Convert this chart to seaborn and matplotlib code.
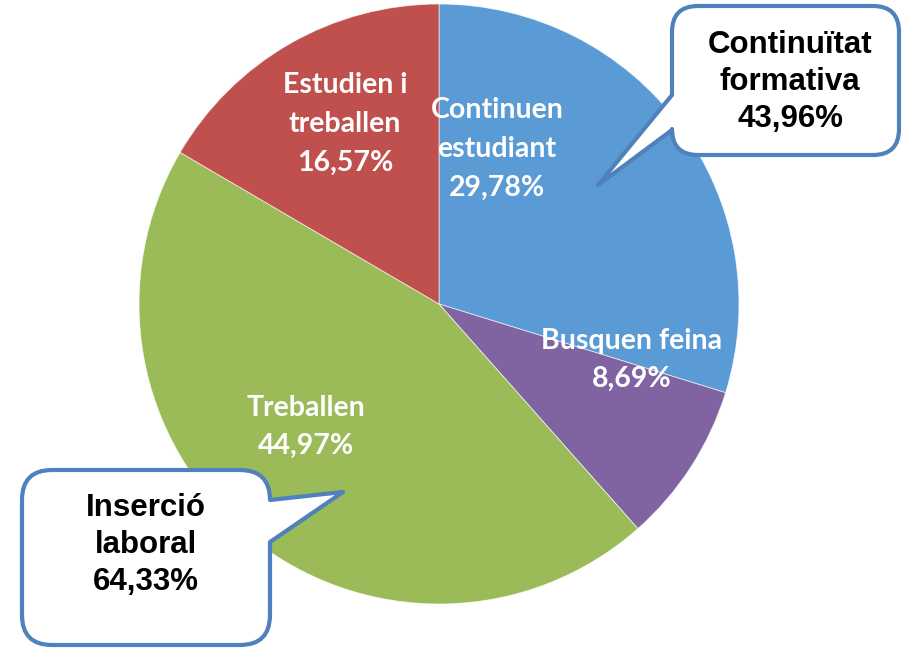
import matplotlib
matplotlib.use("Agg")
import matplotlib.pyplot as plt
from matplotlib.path import Path
from matplotlib.patches import PathPatch
import seaborn as sns

# dades del gràfic
categories = ["Continuen estudiant", "Busquen feina", "Treballen", "Estudien i treballen"]
label_lines = ["Continuen\nestudiant", "Busquen feina", "Treballen", "Estudien i\ntreballen"]
values = [29.78, 8.69, 44.97, 16.57]
colors = ["#5B9BD5", "#8064A2", "#9BBB59", "#C0504D"]

callout_titles = ["Continuïtat\nformativa", "Inserció\nlaboral"]
callout_values = [43.96, 64.33]

W, H = 902, 650

sns.set_style("white")

fig = plt.figure(figsize=(W / 100, H / 100), dpi=100)
ax = fig.add_axes([0, 0, 1, 1])


def py(y):
    # coordenada de píxel (des de dalt) a coordenada de l'eix
    return H - y


def fmt(v):
    return f"{v:.2f}".replace(".", ",") + "%"


ax.pie(values, colors=colors, startangle=90, counterclock=False,
       center=(439, py(304)), radius=300, frame=True,
       wedgeprops=dict(linewidth=0.6, edgecolor=(1, 1, 1, 0.7)))
ax.set_xlim(0, W)
ax.set_ylim(0, H)
ax.set_aspect("equal")
ax.axis("off")

# posicions de les etiquetes (píxels)
label_pos = [(497, 149), (632, 360), (306, 427), (345, 124)]
for txt, v, (x, y) in zip(label_lines, values, label_pos):
    ax.text(x, py(y), txt + "\n" + fmt(v), ha="center", va="center",
            color="white", fontsize=20.5, fontweight="bold",
            family=["Lato", "DejaVu Sans"], linespacing=1.6, zorder=5)


def callout(x0, y0, x1, y1, r, side, b0, b1, tip):
    # rectangle arrodonit amb cua, en píxels
    X0, X1 = x0, x1
    Yt, Yb = py(y0), py(y1)
    tx, ty = tip[0], py(tip[1])
    v, c = [], []

    def add(pt, code):
        v.append(pt)
        c.append(code)

    add((X0 + r, Yt), Path.MOVETO)
    add((X1 - r, Yt), Path.LINETO)
    add((X1, Yt), Path.CURVE3)
    add((X1, Yt - r), Path.CURVE3)
    if side == "right":
        add((X1, py(b0)), Path.LINETO)
        add((tx, ty), Path.LINETO)
        add((X1, py(b1)), Path.LINETO)
    add((X1, Yb + r), Path.LINETO)
    add((X1, Yb), Path.CURVE3)
    add((X1 - r, Yb), Path.CURVE3)
    add((X0 + r, Yb), Path.LINETO)
    add((X0, Yb), Path.CURVE3)
    add((X0, Yb + r), Path.CURVE3)
    if side == "left":
        add((X0, py(b1)), Path.LINETO)
        add((tx, ty), Path.LINETO)
        add((X0, py(b0)), Path.LINETO)
    add((X0, Yt - r), Path.LINETO)
    add((X0, Yt), Path.CURVE3)
    add((X0 + r, Yt), Path.CURVE3)
    add((X0 + r, Yt), Path.CLOSEPOLY)
    patch = PathPatch(Path(v, c), facecolor="white", edgecolor="#4F81BD",
                      linewidth=3, joinstyle="round", zorder=10)
    ax.add_patch(patch)


callout(672, 6, 899, 155, 26, "left", 95, 130, (598, 185))
callout(22, 470, 270, 645, 30, "right", 500, 542, (343, 492))

callout_pos = [(790, 82), (146, 545)]
for t, v, (x, y) in zip(callout_titles, callout_values, callout_pos):
    ax.text(x, py(y), t + "\n" + fmt(v), ha="center", va="center",
            color="black", fontsize=22.5, fontweight="bold",
            family=["Liberation Sans", "DejaVu Sans"], linespacing=1.3,
            zorder=11)

fig.savefig("out.png", dpi=100)
plt.close(fig)
